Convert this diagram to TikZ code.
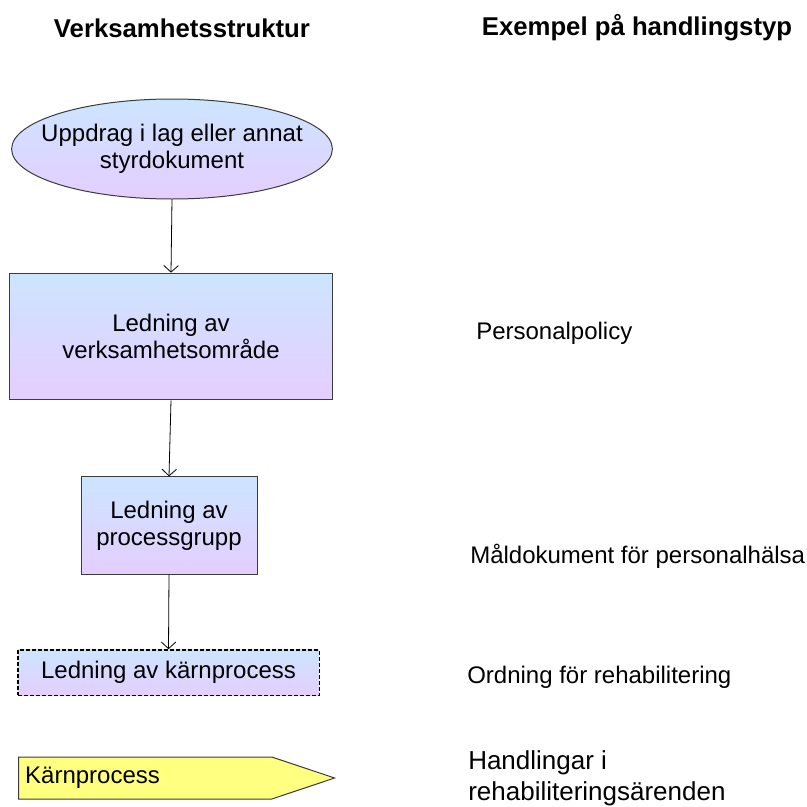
\documentclass[tikz,border=0pt]{standalone}
\usepackage{fontspec}
\setmainfont{Liberation Sans}
\usetikzlibrary{shapes.geometric,shapes.symbols,arrows.meta,positioning}
\definecolor{toplight}{RGB}{204,229,255}
\definecolor{botlight}{RGB}{229,206,255}
\definecolor{coreyellow}{RGB}{255,255,128}
\definecolor{edgegray}{RGB}{60,60,60}
\begin{document}
\begin{tikzpicture}[x=0.75pt,y=-0.75pt,
  unit/.style={draw=edgegray,line width=0.75pt,top color=toplight,bottom color=botlight,
               font=\fontsize{18}{20.5}\selectfont,align=center,inner sep=2pt},
  core/.style={draw=edgegray,line width=0.75pt,fill=coreyellow,signal,signal to=east,
               signal pointer angle=37,font=\fontsize{18}{20.5}\selectfont},
  flow/.style={draw=black,line width=0.6pt,-{Straight Barb[length=5pt,width=11pt]}},
  head/.style={font=\bfseries\fontsize{19.3}{22}\selectfont},
  ex/.style={font=\fontsize{18}{20.5}\selectfont,anchor=west,align=left,inner sep=0pt}
]
  \useasboundingbox (0,0) rectangle (807,807);

  %% ---- column headings ----
  \node[head] (lefthead) at (182,28) {Verksamhetsstruktur};
  \node[head] (righthead) at (637,28) {Exempel på handlingstyp};

  %% ---- structure (left column) ----
  \node[unit,ellipse,inner xsep=-13pt,minimum width=239pt,minimum height=75pt] (mandate) at (172,149)
    {Uppdrag i lag eller annat\\styrdokument};
  \node[unit,rectangle,minimum width=242pt,minimum height=95pt] (area) at (171,336.5)
    {Ledning av\\verksamhetsområde};
  \node[unit,rectangle,minimum width=132pt,minimum height=73pt] (group) at (169,525.5)
    {Ledning av\\processgrupp};
  \node[unit,rectangle,draw=black,line width=1pt,dash pattern=on 3pt off 1.5pt,
        minimum width=226pt,minimum height=34pt] (kernel) at (168.5,672.5)
    {Ledning av kärnprocess};
  \node[core,anchor=west,minimum width=215pt,minimum height=31.5pt,
        text width=180pt,align=left,inner xsep=5pt] (process) at (18,778) {Kärnprocess};

  %% ---- connectors ----
  \draw[flow] (mandate.south) -- (area.north);
  \draw[flow] (area.south) -- (group.north);
  \draw[flow] (group.south) -- (kernel.north);

  %% ---- examples (right column) ----
  \node[ex] (policy) at (476,333) {Personalpolicy};
  \node[ex] (goals) at (470,556) {Måldokument för personalhälsa};
  \node[ex] (rehab) at (467,677) {Ordning för rehabilitering};
  \node[ex,font=\fontsize{19.5}{23}\selectfont] (cases) at (468,778)
    {Handlingar i\\rehabiliteringsärenden};
\end{tikzpicture}
\end{document}
